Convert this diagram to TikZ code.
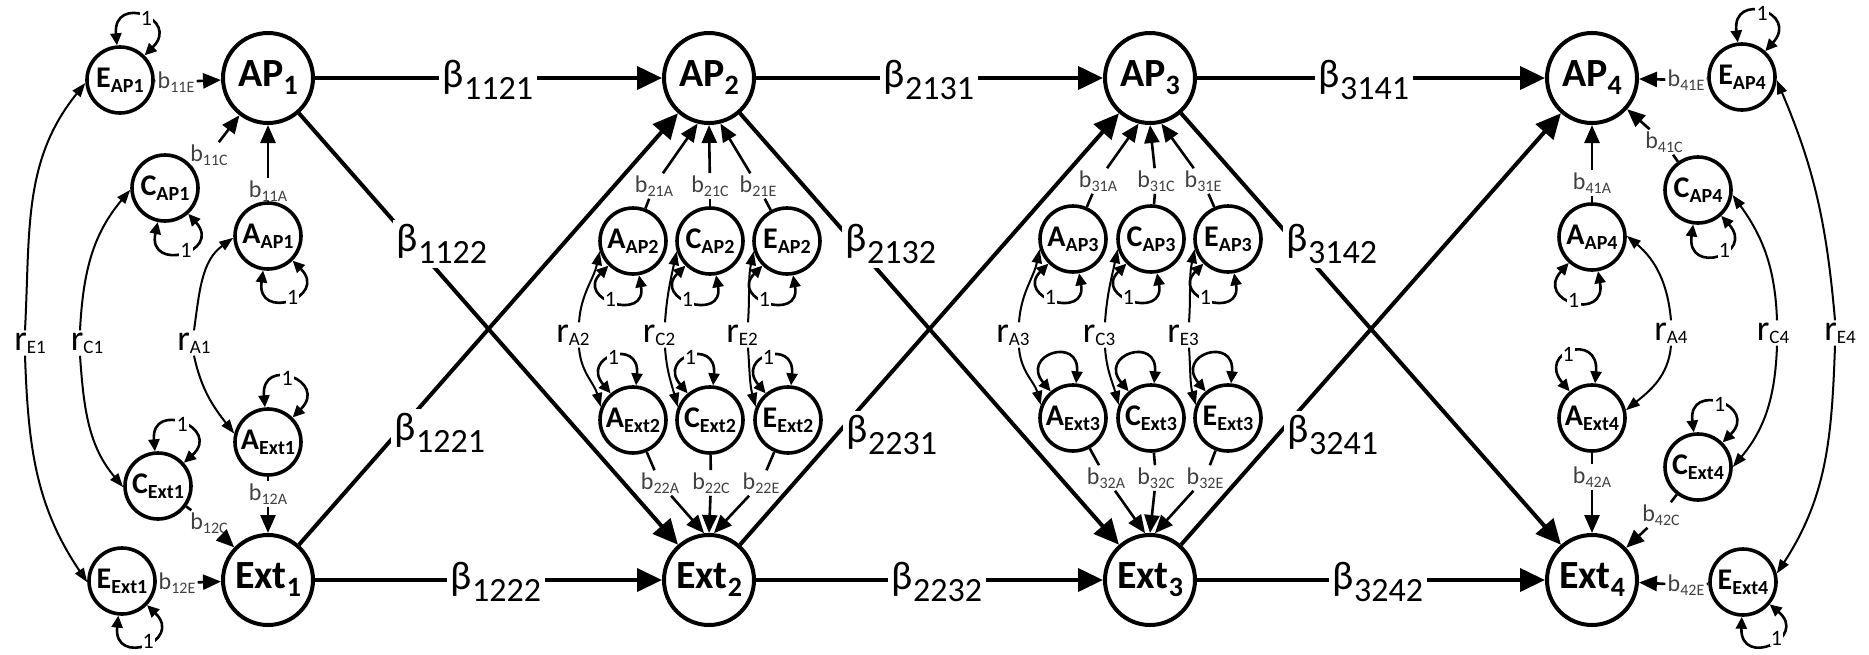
\documentclass[tikz,border=0pt]{standalone}
\usepackage{fontspec}
\setmainfont{Carlito}
\usetikzlibrary{arrows.meta}

% lowered subscripts at fixed sizes
\newcommand{\BigSub}[1]{\raisebox{-4pt}{\fontsize{14}{14}\selectfont #1}}
\newcommand{\SmSub}[1]{\raisebox{-2.5pt}{\fontsize{10}{10}\selectfont #1}}
\newcommand{\BetaSub}[1]{\raisebox{-6pt}{\fontsize{17}{17}\selectfont #1}}
\newcommand{\RSub}[1]{\raisebox{-1.5pt}{\fontsize{9.5}{9.5}\selectfont #1}}
\newcommand{\BSub}[1]{\raisebox{-2pt}{\fontsize{8}{8}\selectfont #1}}

\tikzset{
  latent/.style={circle, draw, line width=2pt, minimum size=45pt, inner sep=0pt,
    font=\fontsize{20}{24}\selectfont\bfseries},
  facet/.style={circle, draw, line width=1.8pt, minimum size=33pt, inner sep=0pt,
    font=\fontsize{15}{18}\selectfont\bfseries},
  betalab/.style={fill=white, inner sep=2pt, font=\fontsize{20}{24}\selectfont},
  rlab/.style={inner sep=1pt, font=\fontsize{18}{20}\selectfont},
  blab/.style={inner sep=1pt, text=black!75, font=\fontsize{12}{14}\selectfont},
  onelab/.style={fill=white, inner sep=0.6pt, font=\fontsize{11}{12}\selectfont},
  pathline/.style={line width=2pt, -{Triangle[length=12.5pt,width=11.5pt]}},
  bstub/.style={line width=1.3pt},
  barrow/.style={line width=1.3pt, -{Triangle[length=9pt,width=7.5pt]}},
  rarrow/.style={line width=1pt, -{Triangle[length=7pt,width=5pt]}},
  selfloop/.style={line width=1.3pt,
    {Triangle[length=6pt,width=5.5pt]}-{Triangle[length=6pt,width=5.5pt]}},
}

\begin{document}
\begin{tikzpicture}[x=0.5pt,y=0.5pt]
\useasboundingbox (0,0) rectangle (1869,-654);

% ---------- latent variables ----------
\node[latent] (AP1) at (268,-78) {AP\BigSub{1}};
\node[latent] (AP2) at (709,-78) {AP\BigSub{2}};
\node[latent] (AP3) at (1150,-78) {AP\BigSub{3}};
\node[latent] (AP4) at (1592,-78) {AP\BigSub{4}};
\node[latent] (Ext1) at (268,-580) {Ext\BigSub{1}};
\node[latent] (Ext2) at (709,-580) {Ext\BigSub{2}};
\node[latent] (Ext3) at (1150,-580) {Ext\BigSub{3}};
\node[latent] (Ext4) at (1592,-580) {Ext\BigSub{4}};

% ---------- A, C, E components ----------
\node[facet] (EAP1) at (120,-80) {E\SmSub{AP1}};
\node[facet] (CAP1) at (165,-188) {C\SmSub{AP1}};
\node[facet] (AAP1) at (268,-236) {A\SmSub{AP1}};
\node[facet] (AExt1) at (268,-442) {A\SmSub{Ext1}};
\node[facet] (CExt1) at (158,-486) {C\SmSub{Ext1}};
\node[facet] (EExt1) at (122,-581) {E\SmSub{Ext1}};

\node[facet] (AAP2) at (633,-241) {A\SmSub{AP2}};
\node[facet] (CAP2) at (710,-241) {C\SmSub{AP2}};
\node[facet] (EAP2) at (787,-241) {E\SmSub{AP2}};
\node[facet] (AExt2) at (633,-420) {A\SmSub{Ext2}};
\node[facet] (CExt2) at (710,-420) {C\SmSub{Ext2}};
\node[facet] (EExt2) at (788,-420) {E\SmSub{Ext2}};

\node[facet] (AAP3) at (1073,-239) {A\SmSub{AP3}};
\node[facet] (CAP3) at (1151,-239) {C\SmSub{AP3}};
\node[facet] (EAP3) at (1228,-239) {E\SmSub{AP3}};
\node[facet] (AExt3) at (1073,-418) {A\SmSub{Ext3}};
\node[facet] (CExt3) at (1151,-418) {C\SmSub{Ext3}};
\node[facet] (EExt3) at (1228,-418) {E\SmSub{Ext3}};

\node[facet] (EAP4) at (1742,-77) {E\SmSub{AP4}};
\node[facet] (CAP4) at (1698,-190) {C\SmSub{AP4}};
\node[facet] (AAP4) at (1592,-237) {A\SmSub{AP4}};
\node[facet] (AExt4) at (1592,-418) {A\SmSub{Ext4}};
\node[facet] (CExt4) at (1698,-467) {C\SmSub{Ext4}};
\node[facet] (EExt4) at (1743,-582) {E\SmSub{Ext4}};

% ---------- structural paths ----------
\draw[pathline] (AP1) -- (AP2);
\draw[pathline] (AP2) -- (AP3);
\draw[pathline] (AP3) -- (AP4);
\draw[pathline] (Ext1) -- (Ext2);
\draw[pathline] (Ext2) -- (Ext3);
\draw[pathline] (Ext3) -- (Ext4);
\draw[pathline] (AP1) -- (Ext2);
\draw[pathline] (Ext1) -- (AP2);
\draw[pathline] (AP2) -- (Ext3);
\draw[pathline] (Ext2) -- (AP3);
\draw[pathline] (AP3) -- (Ext4);
\draw[pathline] (Ext3) -- (AP4);

\node[betalab] (b1121) at (488,-80) {β\BetaSub{1121}};
\node[betalab] (b2131) at (929,-80) {β\BetaSub{2131}};
\node[betalab] (b3141) at (1364,-80) {β\BetaSub{3141}};
\node[betalab] (b1222) at (496,-582) {β\BetaSub{1222}};
\node[betalab] (b2232) at (937,-582) {β\BetaSub{2232}};
\node[betalab] (b3242) at (1378,-582) {β\BetaSub{3242}};
\node[betalab] (b1122) at (442,-244) {β\BetaSub{1122}};
\node[betalab] (b2132) at (891,-244) {β\BetaSub{2132}};
\node[betalab] (b3142) at (1332,-244) {β\BetaSub{3142}};
\node[betalab] (b1221) at (440,-433) {β\BetaSub{1221}};
\node[betalab] (b2231) at (892,-435) {β\BetaSub{2231}};
\node[betalab] (b3241) at (1333,-435) {β\BetaSub{3241}};

% ---------- component loadings ----------
\node[blab] (l11E) at (176,-82) {b\BSub{11E}};
\node[blab] (l11C) at (209,-155) {b\BSub{11C}};
\node[blab] (l11A) at (268,-191) {b\BSub{11A}};
\node[blab] (l12A) at (268,-494) {b\BSub{12A}};
\node[blab] (l12C) at (209,-523) {b\BSub{12C}};
\node[blab] (l12E) at (177,-583) {b\BSub{12E}};
\foreach \s/\l/\t in {EAP1/l11E/AP1, CAP1/l11C/AP1, AAP1/l11A/AP1,
                      AExt1/l12A/Ext1, CExt1/l12C/Ext1, EExt1/l12E/Ext1}{
  \draw[bstub] (\s) -- (\l);
  \draw[barrow] (\l) -- (\t);
}

\node[blab] (l21A) at (654,-186) {b\BSub{21A}};
\node[blab] (l21C) at (710,-186) {b\BSub{21C}};
\node[blab] (l21E) at (758,-186) {b\BSub{21E}};
\node[blab] (l22A) at (660,-483) {b\BSub{22A}};
\node[blab] (l22C) at (711,-483) {b\BSub{22C}};
\node[blab] (l22E) at (761,-483) {b\BSub{22E}};
\node[blab] (l31A) at (1098,-181) {b\BSub{31A}};
\node[blab] (l31C) at (1156,-181) {b\BSub{31C}};
\node[blab] (l31E) at (1203,-181) {b\BSub{31E}};
\node[blab] (l32A) at (1106,-478) {b\BSub{32A}};
\node[blab] (l32C) at (1156,-478) {b\BSub{32C}};
\node[blab] (l32E) at (1205,-478) {b\BSub{32E}};
\foreach \c/\n in {2/2, 3/3}{
  \draw[bstub] (AAP\c) -- (l\n1A);  \draw[barrow] (l\n1A) -- (AP\c.256);
  \draw[bstub] (CAP\c) -- (l\n1C);  \draw[barrow] (l\n1C) -- (AP\c.south);
  \draw[bstub] (EAP\c) -- (l\n1E);  \draw[barrow] (l\n1E) -- (AP\c.284);
  \draw[bstub] (AExt\c) -- (l\n2A); \draw[barrow] (l\n2A) -- (Ext\c.96);
  \draw[bstub] (CExt\c) -- (l\n2C); \draw[barrow] (l\n2C) -- (Ext\c.north);
  \draw[bstub] (EExt\c) -- (l\n2E); \draw[barrow] (l\n2E) -- (Ext\c.84);
}

\node[blab] (l41E) at (1686,-80) {b\BSub{41E}};
\node[blab] (l41C) at (1664,-142) {b\BSub{41C}};
\node[blab] (l41A) at (1592,-183) {b\BSub{41A}};
\node[blab] (l42A) at (1592,-477) {b\BSub{42A}};
\node[blab] (l42C) at (1661,-515) {b\BSub{42C}};
\node[blab] (l42E) at (1686,-585) {b\BSub{42E}};
\foreach \s/\l/\t in {EAP4/l41E/AP4, CAP4/l41C/AP4, AAP4/l41A/AP4,
                      AExt4/l42A/Ext4, CExt4/l42C/Ext4, EExt4/l42E/Ext4}{
  \draw[bstub] (\s) -- (\l);
  \draw[barrow] (\l) -- (\t);
}

% ---------- cross-occasion correlations ----------
\node[rlab] (rE1) at (30,-343) {r\RSub{E1}};
\node[rlab] (rC1) at (87,-343) {r\RSub{C1}};
\node[rlab] (rA1) at (194,-343) {r\RSub{A1}};
\draw[rarrow] ([xshift=-2.5pt]rE1.north) to[out=87,in=231] (EAP1.185);
\draw[rarrow] ([xshift=-2.5pt]rE1.south) to[out=272,in=124] (EExt1.182);
\draw[rarrow] ([xshift=-3.5pt]rC1.north) to[out=87,in=230] (CAP1.183);
\draw[rarrow] ([xshift=-3.5pt]rC1.south) to[out=274,in=130] (CExt1.182);
\draw[rarrow] (rA1.north) to[out=82,in=216] (AAP1.183);
\draw[rarrow] (rA1.south) to[out=282,in=128] (AExt1.166);

\node[rlab] (rA2) at (573,-335) {r\RSub{A2}};
\node[rlab] (rC2) at (659,-335) {r\RSub{C2}};
\node[rlab] (rE2) at (742,-335) {r\RSub{E2}};
\node[rlab] (rA3) at (1013,-335) {r\RSub{A3}};
\node[rlab] (rC3) at (1099,-335) {r\RSub{C3}};
\node[rlab] (rE3) at (1183,-335) {r\RSub{E3}};
\foreach \f/\c in {A/2, C/2, E/2, A/3, C/3, E/3}{
  \draw[rarrow] ([xshift=3pt]r\f\c.north) to[out=86,in=258] (\f AP\c.197);
  \draw[rarrow] ([xshift=3pt]r\f\c.south) to[out=274,in=105] (\f Ext\c.158);
}

\node[rlab] (rA4) at (1671,-333) {r\RSub{A4}};
\node[rlab] (rC4) at (1773,-333) {r\RSub{C4}};
\node[rlab] (rE4) at (1840,-333) {r\RSub{E4}};
\draw[rarrow] (rA4.north) to[out=95,in=320] (AAP4.2);
\draw[rarrow] (rA4.south) to[out=265,in=39] (AExt4.13);
\draw[rarrow] ([xshift=2pt]rC4.north) to[out=92,in=306] (CAP4.352);
\draw[rarrow] ([xshift=2pt]rC4.south) to[out=268,in=50] (CExt4.0);
\draw[rarrow] ([xshift=-2.5pt]rE4.north) to[out=95,in=293] (EAP4.355);
\draw[rarrow] ([xshift=-2.5pt]rE4.south) to[out=268,in=57] (EExt4.14);

% ---------- variances fixed to 1 ----------
\draw[selfloop] (EAP1.95) to[out=95,in=45,distance=26pt] node[onelab,pos=0.55]{1} (EAP1.45);
\draw[selfloop] (CAP1.258) to[out=258,in=312,distance=26pt] node[onelab,pos=0.55]{1} (CAP1.312);
\draw[selfloop] (AAP1.262) to[out=262,in=315,distance=26pt] node[onelab,pos=0.55]{1} (AAP1.315);
\draw[selfloop] (AExt1.95) to[out=95,in=45,distance=26pt] node[onelab,pos=0.45]{1} (AExt1.45);
\draw[selfloop] (CExt1.95) to[out=95,in=42,distance=26pt] node[onelab,pos=0.5]{1} (CExt1.42);
\draw[selfloop] (EExt1.264) to[out=264,in=316,distance=26pt] node[onelab,pos=0.55]{1} (EExt1.316);

\foreach \f in {A, C, E}{
  \draw[selfloop] (\f AP2.225) to[out=225,in=280,distance=24pt] node[onelab,pos=0.45]{1} (\f AP2.280);
  \draw[selfloop] (\f Ext2.130) to[out=130,in=85,distance=24pt] node[onelab,pos=0.5]{1} (\f Ext2.85);
  \draw[selfloop] (\f AP3.225) to[out=225,in=280,distance=24pt] node[onelab,pos=0.45]{1} (\f AP3.280);
  \draw[selfloop] (\f Ext3.130) to[out=130,in=85,distance=24pt] (\f Ext3.85);
}

\draw[selfloop] (AAP4.228) to[out=228,in=280,distance=26pt] node[onelab,pos=0.5]{1} (AAP4.280);
\draw[selfloop] (CAP4.262) to[out=262,in=312,distance=26pt] node[onelab,pos=0.6]{1} (CAP4.312);
\draw[selfloop] (EAP4.97) to[out=97,in=48,distance=26pt] node[onelab,pos=0.5]{1} (EAP4.48);
\draw[selfloop] (AExt4.130) to[out=130,in=85,distance=26pt] node[onelab,pos=0.45]{1} (AExt4.85);
\draw[selfloop] (CExt4.97) to[out=97,in=45,distance=26pt] node[onelab,pos=0.5]{1} (CExt4.45);
\draw[selfloop] (EExt4.268) to[out=268,in=320,distance=26pt] node[onelab,pos=0.6]{1} (EExt4.320);

\end{tikzpicture}
\end{document}
